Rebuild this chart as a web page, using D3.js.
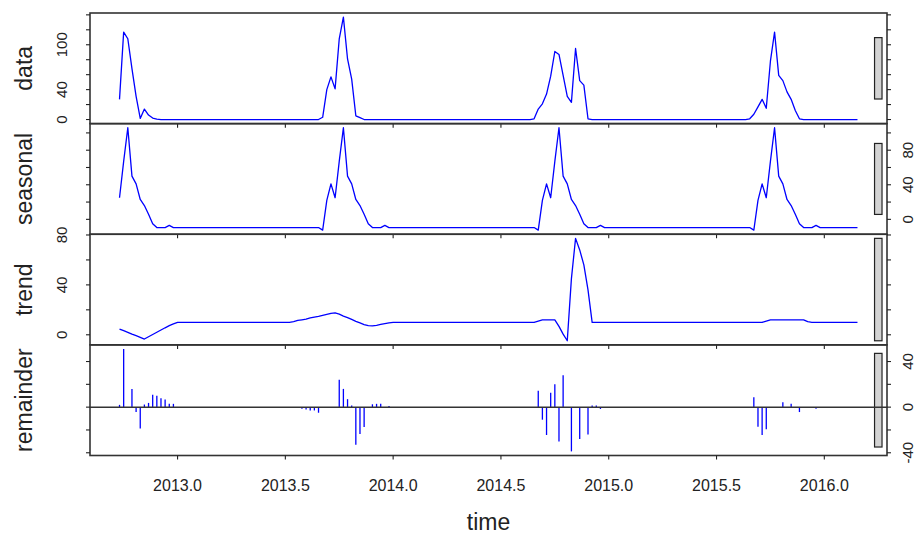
<!DOCTYPE html>
<html>
<head>
<meta charset="utf-8">
<script src="https://cdn.jsdelivr.net/npm/d3@7"></script>
<style>
  html, body { margin: 0; padding: 0; background: #fff; }
  svg { display: block; }
</style>
</head>
<body>
<svg id="chart"></svg>
<script>
// weekly series (frequency 52), first value is 2012 week 39
var startYear = 2012,
  startWeek = 38,
  freq = 52;

// rows of 13 weeks: w0-12, w13-25, w26-38, w39-51
var dataValues = [
  27,
  117, 108, 68, 31, 1.5, 14, 6, 2, 0.5, 0, 0, 0, 0,
  // 2013
  0, 0, 0, 0, 0, 0, 0, 0, 0, 0, 0, 0, 0,
  0, 0, 0, 0, 0, 0, 0, 0, 0, 0, 0, 0, 0,
  0, 0, 0, 0, 0, 0, 0, 0, 0, 3, 40, 57, 41,
  108, 137, 81, 54, 5, 2.5, 0, 0, 0, 0, 0, 0, 0,
  // 2014
  0, 0, 0, 0, 0, 0, 0, 0, 0, 0, 0, 0, 0,
  0, 0, 0, 0, 0, 0, 0, 0, 0, 0, 0, 0, 0,
  0, 0, 0, 0, 0, 0, 0, 0, 1, 14, 21, 34, 58,
  91, 87, 59, 31, 23, 95, 52, 46, 1, 0, 0, 0, 0,
  // 2015
  0, 0, 0, 0, 0, 0, 0, 0, 0, 0, 0, 0, 0,
  0, 0, 0, 0, 0, 0, 0, 0, 0, 0, 0, 0, 0,
  0, 0, 0, 0, 0, 0, 0, 0, 1, 7, 17, 27, 15,
  78, 117, 59, 52, 37, 27, 12, 1, 0, 0, 0, 0, 0,
  // 2016
  0, 0, 0, 0, 0, 0, 0, 0, 0
];

var seasonalValues = [
  25,
  67, 106, 50, 41, 23, 16, 6, -5, -9.5, -9.5, -9.5, -7, -9.5,
  // 2013
  -9.5, -9.5, -9.5, -9.5, -9.5, -9.5, -9.5, -9.5, -9.5, -9.5, -9.5, -9.5, -9.5,
  -9.5, -9.5, -9.5, -9.5, -9.5, -9.5, -9.5, -9.5, -9.5, -9.5, -9.5, -9.5, -9.5,
  -9.5, -9.5, -9.5, -9.5, -9.5, -9.5, -9.5, -9.5, -9.5, -12.5, 22, 41, 25,
  67, 106, 50, 41, 23, 16, 6, -5, -9.5, -9.5, -9.5, -7, -9.5,
  // 2014
  -9.5, -9.5, -9.5, -9.5, -9.5, -9.5, -9.5, -9.5, -9.5, -9.5, -9.5, -9.5, -9.5,
  -9.5, -9.5, -9.5, -9.5, -9.5, -9.5, -9.5, -9.5, -9.5, -9.5, -9.5, -9.5, -9.5,
  -9.5, -9.5, -9.5, -9.5, -9.5, -9.5, -9.5, -9.5, -9.5, -12.5, 22, 41, 25,
  67, 106, 50, 41, 23, 16, 6, -5, -9.5, -9.5, -9.5, -7, -9.5,
  // 2015
  -9.5, -9.5, -9.5, -9.5, -9.5, -9.5, -9.5, -9.5, -9.5, -9.5, -9.5, -9.5, -9.5,
  -9.5, -9.5, -9.5, -9.5, -9.5, -9.5, -9.5, -9.5, -9.5, -9.5, -9.5, -9.5, -9.5,
  -9.5, -9.5, -9.5, -9.5, -9.5, -9.5, -9.5, -9.5, -9.5, -12.5, 22, 41, 25,
  67, 106, 50, 41, 23, 16, 6, -5, -9.5, -9.5, -9.5, -7, -9.5,
  // 2016
  -9.5, -9.5, -9.5, -9.5, -9.5, -9.5, -9.5, -9.5, -9.5
];

var trendValues = [
  4.6,
  3.3, 2, 0.6, -0.7, -2, -3.4, -1.6, 0.2, 2, 3.8, 5.6, 7.3, 8.8,
  // 2013
  10, 10, 10, 10, 10, 10, 10, 10, 10, 10, 10, 10, 10,
  10, 10, 10, 10, 10, 10, 10, 10, 10, 10, 10, 10, 10,
  10, 10, 10.5, 11.5, 12, 12.5, 13.5, 14.2, 14.8, 15.6, 16.4, 17.2, 17.6,
  16.5, 15, 13.8, 12.3, 10.8, 9.5, 8.2, 7.3, 7.2, 7.6, 8.3, 9, 9.6,
  // 2014
  10, 10, 10, 10, 10, 10, 10, 10, 10, 10, 10, 10, 10,
  10, 10, 10, 10, 10, 10, 10, 10, 10, 10, 10, 10, 10,
  10, 10, 10, 10, 10, 10, 10, 10, 10, 11, 12, 12, 12,
  12, 6.7, 0.5, -4.8, 45, 77.3, 68, 56, 36, 10, 10, 10, 10,
  // 2015
  10, 10, 10, 10, 10, 10, 10, 10, 10, 10, 10, 10, 10,
  10, 10, 10, 10, 10, 10, 10, 10, 10, 10, 10, 10, 10,
  10, 10, 10, 10, 10, 10, 10, 10, 10, 10, 10, 10, 11,
  12, 12, 12, 12, 12, 12, 12, 12, 12, 10.5, 10, 10, 10,
  // 2016
  10, 10, 10, 10, 10, 10, 10, 10, 10
];

var remainderValues = [
  2,
  51, 0, 16, -4.3, -18.7, 2.3, 3.7, 10.9, 10, 7.8, 6.6, 2.9, 2.9,
  // 2013
  0, 0, 0, 0, 0, 0, 0, 0, 0, 0, 0, 0, 0,
  0, 0, 0, 0, 0, 0, 0, 0, 0, 0, 0, 0, 0,
  0, 0, 0, 0, -1.4, -2, -2.9, -2.9, -4.9, 0, 0, 0, 0,
  24, 16, 7, 1.4, -33, -23.5, -17.5, 0, 2.5, 2.9, 2.9, 0, 0.9,
  // 2014
  0, 0, 0, 0, 0, 0, 0, 0, 0, 0, 0, 0, 0,
  0, 0, 0, 0, 0, 0, 0, 0, 0, 0, 0, 0, 0,
  0, 0, 0, 0, 0, 0, 0, 0, 0, 14.4, -11, -24.4, 12.6,
  20.1, -30.2, 28, 0, -38.8, 0, -28, 0, -24, 1.4, 1.4, -1.6, 0,
  // 2015
  0, 0, 0, 0, 0, 0, 0, 0, 0, 0, 0, 0, 0,
  0, 0, 0, 0, 0, 0, 0, 0, 0, 0, 0, 0, 0,
  0, 0, 0, 0, 0, 0, 0, 0, 0, 8.6, -17.2, -24.4, -19.3,
  0, 0, 0, 4.3, 0, 2.9, 0, -4.3, 0, 0, 0, -1.4, 0,
  // 2016
  0, 0, 0, 0, 0, 0, 0, 0, 0
];

var panelNames = ["data", "seasonal", "trend", "remainder"];
var panelLabels = [[0, 40, 100], [0, 40, 80], [0, 40, 80], [-40, 0, 40]];
var xTicks = [2013, 2013.5, 2014, 2014.5, 2015, 2015.5, 2016];

var width = 918,
  height = 534;
var plotLeft = 90,
  plotRight = 887,
  plotTop = 13,
  plotBottom = 455.5;
var panelH = (plotBottom - plotTop) / 4;
var font = "'Liberation Sans', Arial, Helvetica, sans-serif";
var ink = "#222";
var lineCol = "#0000ff";

var svg = d3.select("#chart").attr("width", width).attr("height", height);

// R style limits: range widened by 4% on each side
var pad = function (lo, hi) {
  var r = hi - lo;
  return [lo - 0.04 * r, hi + 0.04 * r];
};

var times = d3.range(dataValues.length).map(function (i) {
  return startYear + (startWeek + i) / freq;
});

var xScale = d3
  .scaleLinear()
  .domain(pad(d3.min(times), d3.max(times)))
  .range([plotLeft, plotRight]);

var series = [dataValues, seasonalValues, trendValues, remainderValues];
var minRange = d3.min(series, function (s) {
  return d3.max(s) - d3.min(s);
});

series.forEach(function (vals, i) {
  var y0 = plotTop + i * panelH,
    y1 = y0 + panelH;
  var ext = d3.extent(vals);
  var dom = pad(ext[0], ext[1]);
  var yScale = d3.scaleLinear().domain(dom).range([y1, y0]);
  var g = svg.append("g").attr("class", "panel-" + panelNames[i]);

  if (i < 3) {
    var line = d3
      .line()
      .x(function (d, k) {
        return xScale(times[k]);
      })
      .y(function (d) {
        return yScale(d);
      });
    g.append("path")
      .datum(vals)
      .attr("d", line)
      .attr("fill", "none")
      .attr("stroke", lineCol)
      .attr("stroke-width", 1.3)
      .attr("stroke-linejoin", "round");
  } else {
    g.selectAll("line.bar")
      .data(vals)
      .enter()
      .append("line")
      .attr("class", "bar")
      .attr("x1", function (d, k) {
        return xScale(times[k]);
      })
      .attr("x2", function (d, k) {
        return xScale(times[k]);
      })
      .attr("y1", yScale(0))
      .attr("y2", function (d) {
        return yScale(d);
      })
      .attr("stroke", lineCol)
      .attr("stroke-width", 1.3);
  }

  // range bar: same data length in every panel
  var dx = (plotRight - plotLeft) / 64;
  var mid = (ext[0] + ext[1]) / 2;
  g.append("rect")
    .attr("x", plotRight - dx)
    .attr("width", 0.6 * dx)
    .attr("y", yScale(mid + minRange / 2))
    .attr("height", yScale(mid - minRange / 2) - yScale(mid + minRange / 2))
    .attr("fill", "#d3d3d3")
    .attr("stroke", ink)
    .attr("stroke-width", 1.2);

  if (i === 3) {
    g.append("line")
      .attr("x1", plotLeft)
      .attr("x2", plotRight)
      .attr("y1", yScale(0))
      .attr("y2", yScale(0))
      .attr("stroke", "#333")
      .attr("stroke-width", 1.5);
  }

  g.append("rect")
    .attr("x", plotLeft)
    .attr("y", y0)
    .attr("width", plotRight - plotLeft)
    .attr("height", panelH)
    .attr("fill", "none")
    .attr("stroke", "#333")
    .attr("stroke-width", 1.6);

  // y ticks on both sides
  var yt = d3.range(Math.ceil(dom[0] / 20) * 20, dom[1], 20);
  [plotLeft, plotRight].forEach(function (xa) {
    var dir = xa === plotLeft ? -1 : 1;
    g.selectAll(null)
      .data(yt)
      .enter()
      .append("line")
      .attr("x1", xa)
      .attr("x2", xa + dir * 4)
      .attr("y1", function (d) {
        return yScale(d);
      })
      .attr("y2", function (d) {
        return yScale(d);
      })
      .attr("stroke", ink)
      .attr("stroke-width", 1.1);
  });

  var labelX = i % 2 === 0 ? 67 : 913;
  g.selectAll("text.ytick")
    .data(panelLabels[i])
    .enter()
    .append("text")
    .attr("class", "ytick")
    .attr("transform", function (d) {
      return "translate(" + labelX + "," + yScale(d) + ") rotate(-90)";
    })
    .attr("text-anchor", "middle")
    .attr("font-family", font)
    .attr("font-size", "15px")
    .attr("fill", ink)
    .text(function (d) {
      return d;
    });

  // x ticks at the bottom of every panel
  g.selectAll("line.xtick")
    .data(xTicks)
    .enter()
    .append("line")
    .attr("class", "xtick")
    .attr("x1", function (d) {
      return xScale(d);
    })
    .attr("x2", function (d) {
      return xScale(d);
    })
    .attr("y1", y1)
    .attr("y2", y1 + 4)
    .attr("stroke", ink)
    .attr("stroke-width", 1.1);

  g.append("text")
    .attr("transform", "translate(32," + (y0 + panelH / 2) + ") rotate(-90)")
    .attr("text-anchor", "middle")
    .attr("font-family", font)
    .attr("font-size", "23px")
    .attr("fill", ink)
    .text(panelNames[i]);
});

svg.append("g")
  .selectAll("text")
  .data(xTicks)
  .enter()
  .append("text")
  .attr("x", function (d) {
    return xScale(d);
  })
  .attr("y", 491)
  .attr("text-anchor", "middle")
  .attr("font-family", font)
  .attr("font-size", "16px")
  .attr("fill", ink)
  .text(d3.format(".1f"));

svg.append("text")
  .attr("x", (plotLeft + plotRight) / 2)
  .attr("y", 530)
  .attr("text-anchor", "middle")
  .attr("font-family", font)
  .attr("font-size", "23px")
  .attr("fill", ink)
  .text("time");
</script>
</body>
</html>
